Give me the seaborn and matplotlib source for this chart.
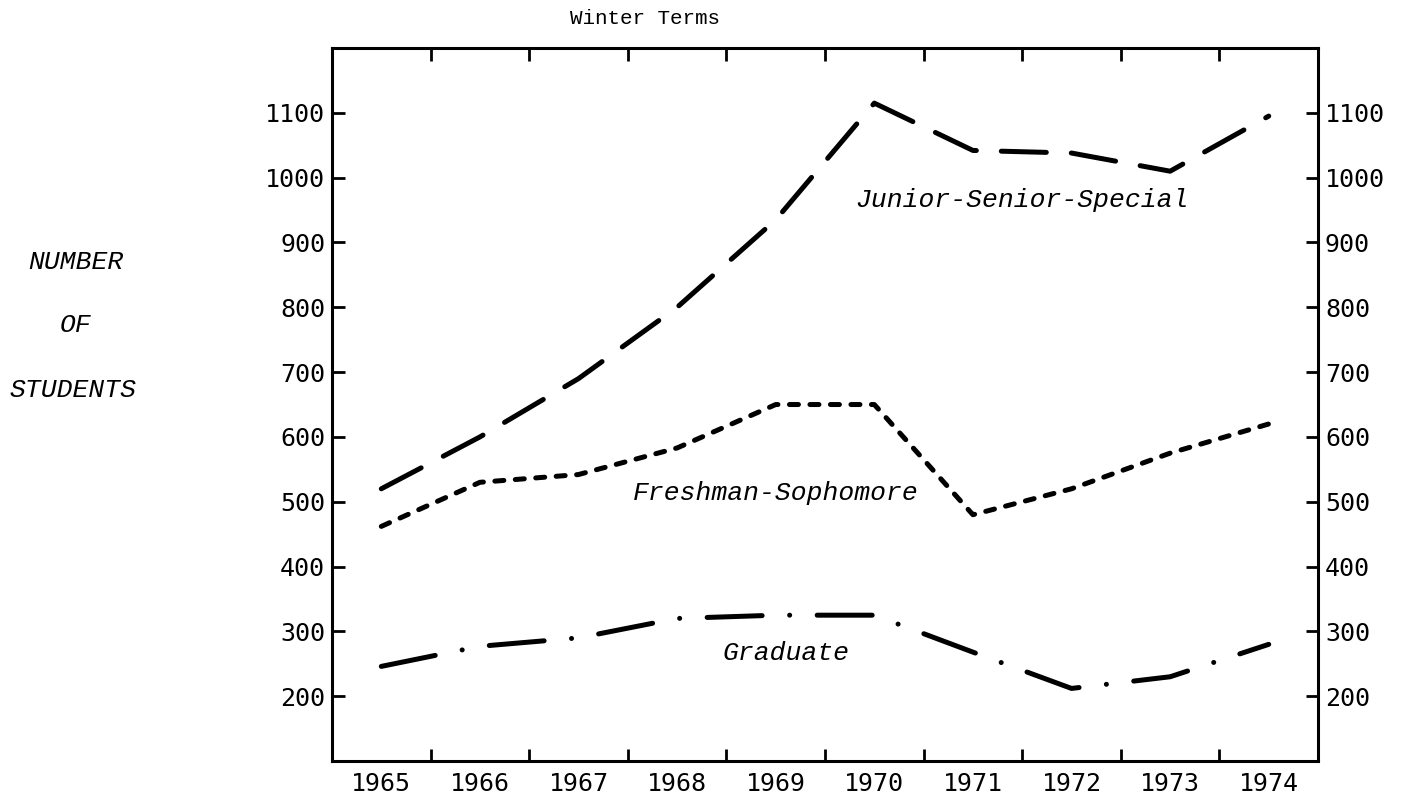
import numpy as np
import pandas as pd
import seaborn as sns
import matplotlib.pyplot as plt

# values (winter terms)
years = [1965, 1966, 1967, 1968, 1969, 1970, 1971, 1972, 1973, 1974]
junior_senior = [520, 600, 690, 800, 935, 1115, 1042, 1038, 1010, 1095]
fresh_soph = [462, 530, 542, 583, 650, 650, 480, 520, 575, 620]
graduate = [246, 277, 290, 320, 325, 325, 268, 212, 230, 280]

group_names = ['Junior-Senior-Special', 'Freshman-Sophomore', 'Graduate']
y_ticks = [200, 300, 400, 500, 600, 700, 800, 900, 1000, 1100]

df = pd.DataFrame({
    'year': years * 3,
    'students': junior_senior + fresh_soph + graduate,
    'group': [group_names[0]] * 10 + [group_names[1]] * 10 + [group_names[2]] * 10,
})

sns.set_style('white')
plt.rcParams['font.family'] = ['DejaVu Sans Mono', 'DejaVu Sans']
plt.rcParams['text.color'] = 'black'
plt.rcParams['xtick.color'] = 'black'
plt.rcParams['ytick.color'] = 'black'

fig = plt.figure(figsize=(14.08, 8.06), dpi=100)
ax = fig.add_axes([0.2358, 0.0558, 0.7003, 0.8846])

# dash patterns in linewidth units (round caps added below)
dash_styles = {
    group_names[0]: (9, 5),
    group_names[1]: (1.8, 2.3),
    group_names[2]: (11, 5.5, 0.01, 5.5),
}
sns.lineplot(data=df, x='year', y='students', style='group', dashes=dash_styles,
             color='black', linewidth=3.6, legend=False, ax=ax)
for ln in ax.get_lines():
    ln.set_dash_capstyle('round')

ax.set_xlim(1964.5, 1974.5)
ax.set_ylim(100, 1200)
ax.set_xlabel('')
ax.set_ylabel('')

# year labels in the middle of each cell, tick marks on the cell borders
ax.set_xticks(years)
ax.set_xticklabels([str(y) for y in years], fontsize=18)
ax.set_xticks(np.arange(1965.5, 1974, 1.0), minor=True)
ax.tick_params(axis='x', which='major', length=0, pad=8)
ax.tick_params(axis='x', which='minor', direction='in', length=9, width=2,
               top=True, bottom=True)

ax.set_yticks(y_ticks)
ax.set_yticklabels([str(v) for v in y_ticks], fontsize=18)
ax.tick_params(axis='y', direction='in', length=9, width=2, left=True, right=True,
               labelleft=True, labelright=True, pad=5)

for s in ax.spines.values():
    s.set_visible(True)
    s.set_linewidth(2.2)
    s.set_color('black')

# inline series names
lab_font = dict(family=['Liberation Mono', 'DejaVu Sans Mono'], style='italic',
                fontsize=19, ha='center', va='center')
ax.text(1971.5, 965, 'Junior-Senior-Special', **lab_font)
ax.text(1969.0, 514, 'Freshman-Sophomore', **lab_font)
ax.text(1969.1, 267, 'Graduate', **lab_font)

fig.text(645 / 1408, 1 - 19 / 806, 'Winter Terms', family=['Liberation Mono'],
         fontsize=15, ha='center', va='center')

side_font = dict(family=['Liberation Mono'], style='italic', fontsize=19,
                 ha='center', va='center')
fig.text(76 / 1408, 1 - 262 / 806, 'NUMBER', **side_font)
fig.text(76 / 1408, 1 - 325 / 806, 'OF', **side_font)
fig.text(73 / 1408, 1 - 390 / 806, 'STUDENTS', **side_font)

fig.savefig('out.png', dpi=100)
